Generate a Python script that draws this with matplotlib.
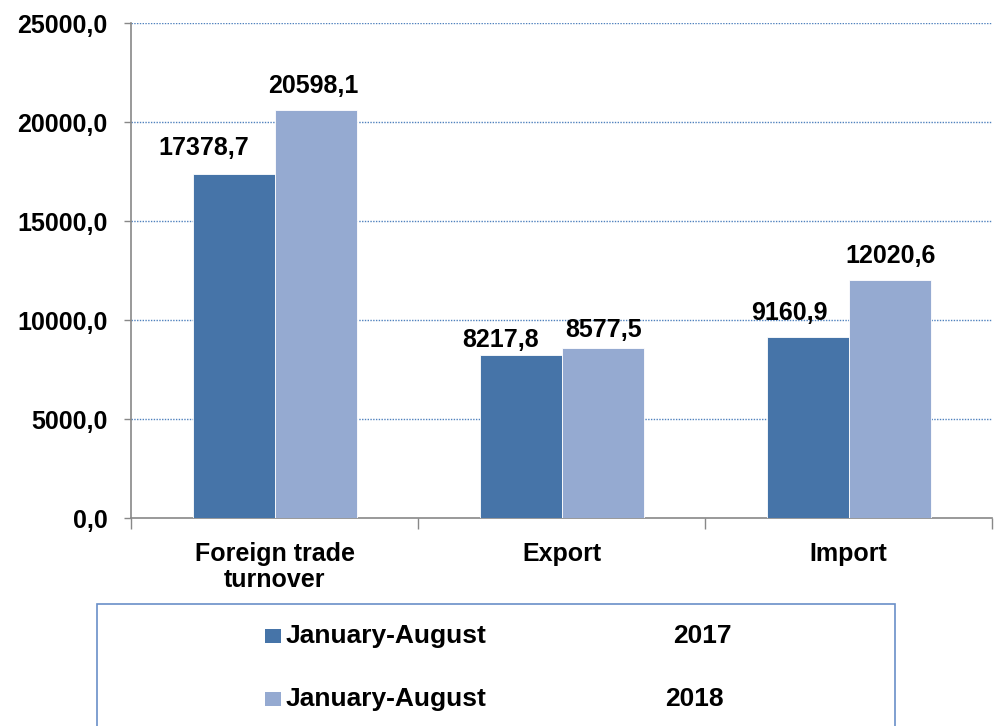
import matplotlib.pyplot as plt
from matplotlib.patches import Rectangle

categories = ["Foreign trade\nturnover", "Export", "Import"]
series_periods = ["January-August", "January-August"]
series_years = ["2017", "2018"]
values_2017 = [17378.7, 8217.8, 9160.9]
values_2018 = [20598.1, 8577.5, 12020.6]
y_ticks = [0, 5000, 10000, 15000, 20000, 25000]

colors = ["#4674A8", "#95AAD1"]
# manual label nudges (px) as in the original chart
label_dx = [[-30, -20, -18], [-2, 1, 1]]
label_dy = [[19, 8, 17], [17, 11, 17]]

plt.rcParams['font.family'] = ['Liberation Sans', 'DejaVu Sans']
plt.rcParams['font.weight'] = 'bold'


def fmt(v):
    return f"{v:.1f}".replace('.', ',')


fig = plt.figure(figsize=(9.94, 7.26), dpi=100)
ax = fig.add_axes([0.1318, 0.2865, 0.8662, 0.6815])

w = 0.2857
x = list(range(len(categories)))
for k, vals in enumerate([values_2017, values_2018]):
    pos = [i + (k - 0.5) * w for i in x]
    bars = ax.bar(pos, vals, width=w, color=colors[k], edgecolor="white",
                  linewidth=0.6, zorder=3)
    for j, (b, v) in enumerate(zip(bars, vals)):
        ax.annotate(fmt(v), (b.get_x() + b.get_width() / 2, v),
                    xytext=(label_dx[k][j] * 0.72, label_dy[k][j] * 0.72),
                    textcoords="offset points",
                    ha="center", va="baseline", fontsize=18, fontweight="bold")

ax.set_xlim(-0.5, 2.5)
ax.set_ylim(0, 25000)
ax.set_yticks(y_ticks)
ax.set_yticklabels([fmt(t) for t in y_ticks], fontsize=18, fontweight="bold")
ax.set_xticks([-0.5, 0.5, 1.5, 2.5])
ax.set_xticklabels([])
ax.set_xticks(x, minor=True)
ax.set_xticklabels(categories, minor=True, fontsize=18, fontweight="bold",
                   linespacing=1.15)
ax.tick_params(axis="x", which="major", length=8, color="#888888", width=1)
ax.tick_params(axis="x", which="minor", length=0, pad=17)
ax.tick_params(axis="y", length=5, color="#888888", width=1, pad=12)

for t in y_ticks[1:]:
    ax.axhline(t, color="#4F81BD", linestyle=(0, (1, 1)), linewidth=1, zorder=1)

for s in ["top", "right"]:
    ax.spines[s].set_visible(False)
for s in ["left", "bottom"]:
    ax.spines[s].set_color("#888888")
    ax.spines[s].set_linewidth(1.2)

# legend box
fig.patches.append(Rectangle((97 / 994, -0.05), 798 / 994, 1 - 604 / 726 + 0.05,
                             transform=fig.transFigure, fill=False,
                             edgecolor="#6A8FC8", linewidth=1.2))
rows_y = [1 - 636 / 726, 1 - 699 / 726]
year_x = [673 / 994, 665 / 994]
for k in range(2):
    fig.patches.append(Rectangle((265 / 994, rows_y[k] - 7 / 726), 16 / 994, 14 / 726,
                                 transform=fig.transFigure, facecolor=colors[k],
                                 edgecolor="none"))
    fig.text(286 / 994, rows_y[k], series_periods[k], fontsize=19,
             fontweight="bold", va="center", ha="left")
    fig.text(year_x[k], rows_y[k], series_years[k], fontsize=19,
             fontweight="bold", va="center", ha="left")

fig.savefig("out.png", dpi=100)
